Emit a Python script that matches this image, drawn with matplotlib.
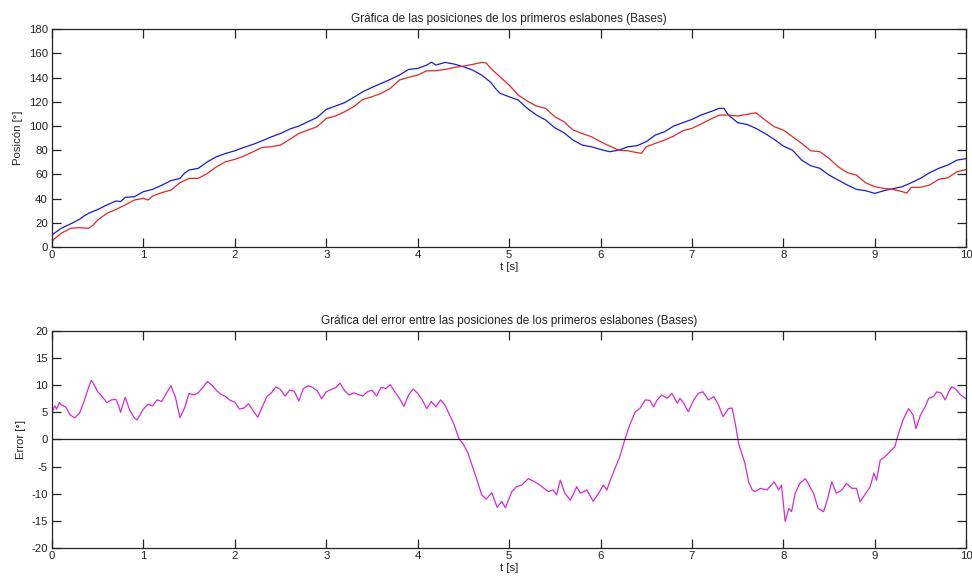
import matplotlib
matplotlib.use("Agg")
import matplotlib.pyplot as plt

plt.rcParams['font.family'] = ['Liberation Sans', 'DejaVu Sans']
plt.rcParams['axes.unicode_minus'] = False

# ---- Position of the first links (bases) ----
t_blue = [0.0, 0.1, 0.2, 0.3, 0.35, 0.4, 0.5, 0.6, 0.7, 0.75, 0.8, 0.9, 1.0, 1.1, 1.2,
          1.3, 1.4, 1.45, 1.5, 1.6, 1.7, 1.8, 1.9, 2.0, 2.1, 2.2, 2.3, 2.4, 2.5, 2.6,
          2.7, 2.8, 2.9, 3.0, 3.1, 3.2, 3.3, 3.4, 3.5, 3.6, 3.7, 3.8, 3.9, 4.0, 4.1,
          4.15, 4.2, 4.3, 4.4, 4.5, 4.6, 4.7, 4.8, 4.85, 4.9, 5.0, 5.1, 5.2, 5.3, 5.4,
          5.5, 5.6, 5.7, 5.8, 5.9, 6.0, 6.1, 6.2, 6.3, 6.4, 6.5, 6.6, 6.7, 6.8, 6.9,
          7.0, 7.1, 7.2, 7.3, 7.35, 7.4, 7.5, 7.6, 7.7, 7.8, 7.9, 8.0, 8.1, 8.2, 8.3,
          8.4, 8.5, 8.6, 8.7, 8.8, 8.9, 9.0, 9.1, 9.2, 9.3, 9.4, 9.5, 9.6, 9.7, 9.8,
          9.9, 10.0]
pos_blue = [10.0, 15.4, 19.0, 22.8, 25.6, 27.8, 31.0, 34.7, 38.0, 37.5, 41.0, 41.5, 45.7,
            47.6, 51.0, 54.8, 56.7, 61.0, 63.6, 65.0, 70.4, 74.6, 77.3, 79.5, 82.3, 84.8,
            87.8, 91.0, 93.8, 97.4, 99.9, 103.5, 107.0, 113.7, 116.4, 119.2, 123.6, 128.3,
            131.8, 135.1, 138.4, 142.0, 146.7, 147.5, 150.3, 152.7, 150.3, 152.5, 151.1,
            148.9, 146.2, 142.0, 136.0, 131.0, 127.0, 124.1, 121.4, 114.5, 109.0, 104.9,
            98.5, 94.4, 88.3, 84.2, 82.8, 80.6, 78.7, 80.0, 82.8, 83.7, 87.0, 92.5, 95.2,
            99.9, 102.7, 105.4, 109.0, 111.7, 114.5, 114.5, 109.0, 102.7, 101.3, 98.0, 93.8,
            88.9, 83.4, 80.0, 71.8, 67.1, 65.0, 59.4, 55.3, 51.2, 47.6, 46.5, 44.3, 46.5,
            48.2, 49.8, 53.1, 56.7, 61.4, 65.0, 67.7, 71.8, 73.0]

t_red = [0.0, 0.1, 0.2, 0.3, 0.4, 0.45, 0.5, 0.6, 0.7, 0.8, 0.9, 1.0, 1.05, 1.1, 1.2, 1.3,
         1.4, 1.5, 1.6, 1.7, 1.8, 1.9, 2.0, 2.1, 2.2, 2.3, 2.4, 2.5, 2.6, 2.7, 2.8, 2.9,
         3.0, 3.1, 3.2, 3.3, 3.4, 3.5, 3.6, 3.7, 3.8, 3.9, 4.0, 4.1, 4.2, 4.3, 4.4, 4.5,
         4.6, 4.7, 4.75, 4.8, 4.9, 5.0, 5.1, 5.2, 5.3, 5.4, 5.5, 5.6, 5.7, 5.8, 5.9, 6.0,
         6.1, 6.2, 6.3, 6.4, 6.45, 6.5, 6.6, 6.7, 6.8, 6.9, 7.0, 7.1, 7.2, 7.3, 7.4, 7.5,
         7.6, 7.7, 7.8, 7.9, 8.0, 8.1, 8.2, 8.3, 8.4, 8.5, 8.6, 8.7, 8.8, 8.9, 9.0, 9.1,
         9.2, 9.3, 9.35, 9.4, 9.5, 9.6, 9.7, 9.8, 9.9, 10.0]
pos_red = [5.0, 11.3, 15.4, 16.0, 15.4, 18.1, 22.3, 27.8, 31.0, 34.7, 38.8, 40.2, 38.8,
           42.1, 44.9, 47.0, 53.1, 56.7, 56.7, 60.8, 66.3, 70.4, 72.4, 75.1, 78.7, 82.3,
           82.8, 84.2, 88.9, 93.8, 96.6, 99.4, 106.2, 108.2, 111.7, 115.9, 121.9, 124.1,
           126.9, 131.0, 137.9, 140.1, 142.0, 145.6, 145.6, 146.7, 148.3, 149.4, 150.8,
           152.5, 152.0, 147.5, 140.6, 133.8, 125.5, 120.5, 116.4, 114.5, 107.6, 103.5,
           96.6, 93.8, 91.1, 87.0, 83.4, 80.0, 79.5, 77.9, 77.5, 82.8, 85.6, 88.3, 91.6,
           96.0, 98.0, 101.6, 105.4, 109.0, 109.0, 108.2, 109.5, 110.9, 104.9, 99.4, 96.6,
           91.1, 85.6, 79.5, 78.7, 73.2, 66.3, 61.4, 59.4, 53.1, 49.8, 48.4, 47.6, 45.7,
           44.5, 49.3, 49.3, 51.2, 55.9, 57.2, 62.2, 64.0]

# ---- Position error between the first links ----
t_err = [0.0, 0.03, 0.05, 0.08, 0.1, 0.15, 0.2, 0.25, 0.3, 0.35, 0.4, 0.43, 0.45, 0.5,
         0.55, 0.6, 0.65, 0.7, 0.73, 0.75, 0.8, 0.85, 0.9, 0.93, 1.0, 1.05, 1.1, 1.15,
         1.2, 1.25, 1.3, 1.35, 1.4, 1.45, 1.5, 1.55, 1.6, 1.65, 1.7, 1.75, 1.8, 1.85,
         1.9, 1.95, 2.0, 2.05, 2.1, 2.15, 2.2, 2.25, 2.3, 2.35, 2.4, 2.45, 2.5, 2.55,
         2.6, 2.65, 2.7, 2.75, 2.8, 2.85, 2.9, 2.95, 3.0, 3.05, 3.1, 3.15, 3.2, 3.25,
         3.3, 3.35, 3.4, 3.45, 3.5, 3.55, 3.6, 3.65, 3.7, 3.75, 3.8, 3.85, 3.9, 3.95,
         4.0, 4.05, 4.1, 4.15, 4.2, 4.25, 4.3, 4.35, 4.4, 4.45, 4.5, 4.55, 4.6, 4.65,
         4.7, 4.75, 4.81, 4.87, 4.92, 4.96, 5.03, 5.08, 5.14, 5.21, 5.28, 5.36, 5.43,
         5.48, 5.52, 5.56, 5.61, 5.67, 5.74, 5.78, 5.85, 5.92, 5.98, 6.03, 6.07, 6.1,
         6.16, 6.21, 6.27, 6.32, 6.38, 6.43, 6.49, 6.54, 6.58, 6.62, 6.67, 6.73, 6.78,
         6.84, 6.87, 6.91, 6.96, 7.02, 7.07, 7.12, 7.18, 7.24, 7.29, 7.34, 7.4, 7.44,
         7.48, 7.51, 7.55, 7.58, 7.62, 7.66, 7.69, 7.75, 7.82, 7.9, 7.95, 7.98, 8.02,
         8.06, 8.09, 8.13, 8.18, 8.24, 8.29, 8.33, 8.38, 8.44, 8.48, 8.53, 8.58, 8.64,
         8.69, 8.75, 8.8, 8.84, 8.89, 8.95, 8.99, 9.02, 9.06, 9.11, 9.17, 9.22, 9.26,
         9.31, 9.37, 9.42, 9.45, 9.5, 9.55, 9.59, 9.64, 9.68, 9.73, 9.77, 9.81, 9.84,
         9.88, 9.94, 10.0]
err = [5.0, 6.2, 5.6, 6.8, 6.4, 6.0, 4.5, 4.0, 4.8, 7.0, 9.6, 10.9, 10.4, 8.8,
       7.9, 6.8, 7.3, 7.4, 6.2, 5.0, 7.8, 5.4, 4.0, 3.6, 5.6, 6.5, 6.2, 7.3,
       7.0, 8.5, 9.9, 7.8, 4.0, 5.8, 8.5, 8.2, 8.6, 9.6, 10.7, 10.0, 9.0, 8.3,
       7.9, 7.2, 6.9, 5.6, 5.8, 6.6, 5.3, 4.1, 6.0, 7.9, 8.6, 9.7, 9.2, 8.0,
       9.1, 8.9, 7.1, 9.4, 9.9, 9.6, 9.0, 7.5, 8.8, 9.2, 9.5, 10.4, 9.0, 8.2,
       8.6, 8.3, 8.0, 8.8, 9.1, 8.0, 9.6, 9.4, 10.1, 8.8, 7.6, 6.1, 8.2, 9.3,
       8.5, 7.3, 5.7, 7.0, 6.0, 7.3, 6.3, 4.5, 2.7, 0.2, -0.9, -2.5, -5.0, -7.5,
       -10.2, -11.0, -9.8, -12.5, -11.4, -12.6, -9.6, -8.7, -8.4, -7.2, -7.8, -8.7, -9.6,
       -9.3, -10.2, -7.5, -9.9, -11.2, -8.7, -9.9, -9.3, -11.4, -9.9, -8.4, -9.3, -7.8,
       -5.3, -3.2, 0.2, 2.7, 5.1, 5.7, 7.3, 7.2, 6.0, 7.3, 8.2, 7.6, 8.5,
       6.7, 7.6, 6.7, 5.1, 7.3, 8.5, 8.8, 7.3, 7.9, 6.4, 4.2, 5.7, 5.8,
       2.4, -0.7, -2.8, -4.4, -7.8, -9.3, -9.6, -9.0, -9.3, -7.8, -9.3, -8.4, -15.1,
       -12.7, -13.3, -9.9, -8.1, -7.2, -8.7, -9.9, -12.7, -13.3, -11.2, -7.8, -9.9, -9.3,
       -8.1, -9.0, -9.0, -11.5, -10.2, -8.7, -6.2, -7.5, -3.8, -3.2, -2.2, -1.3, 1.1,
       3.6, 5.7, 4.5, 2.0, 4.5, 6.0, 7.6, 7.9, 8.8, 8.5, 7.3, 8.8, 9.7,
       9.4, 8.2, 7.5]

x_ticks = list(range(0, 11))
pos_ticks = list(range(0, 181, 20))
err_ticks = list(range(-20, 21, 5))

FS = 8.2
TFS = 8.5
fig = plt.figure(figsize=(9.72, 5.82), dpi=100, facecolor='white')
ax1 = fig.add_axes([0.0535, 0.5756, 0.9405, 0.3744])
ax2 = fig.add_axes([0.0535, 0.0584, 0.9405, 0.3729])


def style(ax):
    for s in ax.spines.values():
        s.set_linewidth(0.9)
        s.set_color('#222222')
    ax.tick_params(direction='in', length=6.5, width=0.9, top=True, right=True,
                   labelsize=FS, colors='#222222', pad=2.5)
    ax.tick_params(axis='y', pad=3)


ax1.plot(t_blue, pos_blue, color='#1c1cc8', lw=0.9)
ax1.plot(t_red, pos_red, color='#e02828', lw=0.9)
ax1.set_xlim(0, 10)
ax1.set_ylim(0, 180)
ax1.set_xticks(x_ticks)
ax1.set_yticks(pos_ticks)
style(ax1)
ax1.set_title('Gráfica de las posiciones de los primeros eslabones (Bases)',
              fontsize=TFS, pad=5, color='#222222')
ax1.set_xlabel('t [s]', fontsize=FS, labelpad=1, color='#222222')
ax1.set_ylabel('Posicón [°]', fontsize=FS, labelpad=4, color='#222222')

ax2.plot(t_err, err, color='#d42ad4', lw=0.9)
ax2.axhline(0, color='#222222', lw=0.9)
ax2.set_xlim(0, 10)
ax2.set_ylim(-20, 20)
ax2.set_xticks(x_ticks)
ax2.set_yticks(err_ticks)
style(ax2)
ax2.set_title('Gráfica del error entre las posiciones de los primeros eslabones (Bases)',
              fontsize=TFS, pad=5, color='#222222')
ax2.set_xlabel('t [s]', fontsize=FS, labelpad=1, color='#222222')
ax2.set_ylabel('Error [°]', fontsize=FS, labelpad=4, color='#222222')

fig.savefig('out.png', dpi=100, facecolor='white')
